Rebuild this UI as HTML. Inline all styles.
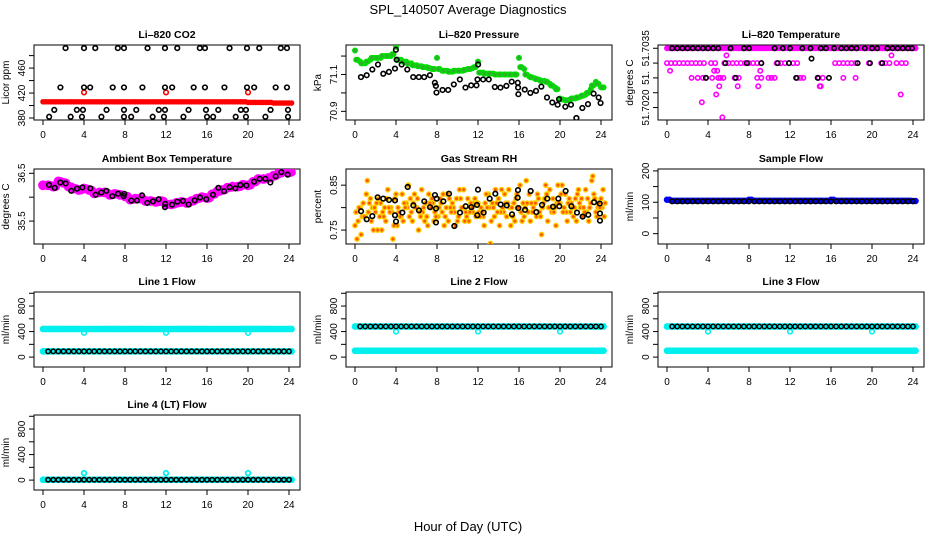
<!DOCTYPE html>
<html><head><meta charset="utf-8"><style>
html,body{margin:0;padding:0;background:#fff;}
svg{display:block;font-family:"Liberation Sans",Arial,sans-serif;}
</style></head><body>
<svg id="chart" width="936" height="540" viewBox="0 0 936 540" xmlns="http://www.w3.org/2000/svg">
<text x="468" y="14" text-anchor="middle" font-size="13">SPL_140507  Average Diagnostics</text>
<text x="468" y="531" text-anchor="middle" font-size="13">Hour of Day (UTC)</text>
</svg>
<script>
// ---- shared hours ----
const hh = [0,0.5,1,1.5,2,2.5,3,3.5,4,4.5,5,5.5,6,6.5,7,7.5,8,8.5,9,9.5,10,10.5,11,11.5,12,12.5,13,13.5,14,14.5,15,15.5,16,16.5,17,17.5,18,18.5,19,19.5,20,20.5,21,21.5,22,22.5,23,23.5,24];
const xTicks = [0,4,8,12,16,20,24];
const dipHours = [4,12,20];

// ---- CO2 ----
const co2Red = [406,406,406,406,406,406,406,406,406,406,406,406,406,406,406,406,406,406,406,406,406,406,406,406,406,406,406,406,406,406,406,406,406,406,406,406,406,406,406,406,405,405,405,405,405,404,404,404,404];
const co2RedDip = [421,421,421];
const co2TopH = [2.2,4.0,5.1,7.3,7.9,10.2,11.9,13.1,15.3,15.8,18.2,19.9,21.1,23.2,23.8];
const co2TopV = [492,492,492,492,492,492,492,492,492,492,492,492,492,492,492];
const co2MidH = [1.7,4.0,4.6,6.8,7.9,9.7,11.9,12.6,14.7,15.8,17.7,19.9,20.6,22.7,23.8];
const co2MidV = [429,429,429,429,429,429,429,429,429,429,429,429,429,429,429];
const co2LowH = [1.1,3.3,3.9,6.2,7.9,9.1,11.3,11.9,14.2,15.9,17.1,19.3,19.8,22.2,23.9];
const co2LowV = [393,393,393,393,393,393,393,393,393,393,393,393,393,393,393];
const co2BotH = [0.6,2.7,3.8,5.7,7.9,8.6,10.7,11.8,13.7,16.0,16.6,18.8,19.8,21.7,23.9];
const co2BotV = [382,382,382,382,382,382,382,382,382,382,382,382,382,382,382];

// ---- Pressure ----
const presGreen = [71.23,71.17,71.16,71.18,71.19,71.19,71.2,71.2,71.25,71.18,71.17,71.16,71.15,71.145,71.14,71.13,71.19,71.12,71.12,71.115,71.12,71.12,71.13,71.135,71.17,71.11,71.105,71.105,71.1,71.1,71.1,71.1,71.19,71.13,71.09,71.08,71.07,71.065,71.05,71.03,70.97,70.96,70.965,70.97,70.98,70.99,71.02,71.06,71.03];
const presGreen2 = [71.18,71.16,71.17,71.19,71.19,71.2,71.2,71.21,71.18,71.17,71.16,71.15,71.145,71.14,71.135,71.13,71.13,71.12,71.115,71.12,71.12,71.125,71.13,71.14,71.11,71.105,71.105,71.1,71.1,71.1,71.1,71.1,71.14,71.1,71.085,71.075,71.065,71.06,71.04,71.02,70.965,70.96,70.97,70.975,70.985,71.0,71.04,71.05,71.03];
const presBlackH = [0.58,1.14,1.69,2.24,2.76,3.31,3.9,3.99,4.06,4.55,5.1,5.68,6.23,6.75,7.31,7.79,7.89,7.95,8.54,9.09,9.64,10.23,10.78,11.33,11.85,11.95,12.01,12.5,13.05,13.64,14.19,14.77,15.29,15.88,15.91,15.94,16.56,17.11,17.66,18.18,18.73,19.25,19.77,19.9,20.52,21.07,21.6,22.18,22.73,23.28,23.77,23.96];
const presBlackV = [71.086,71.096,71.127,71.154,71.104,71.114,71.132,71.234,71.18,71.154,71.127,71.086,71.086,71.086,71.096,71.055,71.038,71.002,71.016,71.016,71.046,71.073,71.029,71.041,71.041,71.073,71.154,71.073,71.073,71.032,71.029,71.038,71.061,71.055,71.029,70.993,71.018,71.0,71.011,71.034,70.975,70.948,70.936,70.966,70.925,70.936,70.864,70.918,70.939,70.996,70.975,70.945];

// ---- Li-820 temperature ----
const ltTop = [51.7035,51.7035,51.7035,51.7035,51.7035,51.7035,51.7035,51.7035,51.7035,51.7035,51.7035,51.7035,51.7035,51.7035,51.7035,51.7035,51.7035,51.7035,51.7035,51.7035,51.7035,51.7035,51.7035,51.7035,51.7035,51.7035,51.7035,51.7035,51.7035,51.7035,51.7035,51.7035,51.7035,51.7035,51.7035,51.7035,51.7035,51.7035,51.7035,51.7035,51.7035,51.7035,51.7035,51.7035,51.7035,51.7035,51.7035,51.7035,51.7035];
const ltMagH = [0,0.4,0.8,1.2,1.6,2,2.4,2.8,3.2,3.6,4.3,4.7,5.6,6,6.4,6.8,7.2,7.6,8,8.4,8.8,9.2,10.7,11.1,11.5,11.9,12.3,12.7,16.4,16.8,17.2,17.6,18,18.4,19.7,20.9,21.3,21.7,22.4,22.9,23.3];
const ltMagV = [51.703,51.703,51.703,51.703,51.703,51.703,51.703,51.703,51.703,51.703,51.703,51.703,51.703,51.703,51.703,51.703,51.703,51.703,51.703,51.703,51.703,51.703,51.703,51.703,51.703,51.703,51.703,51.703,51.703,51.703,51.703,51.703,51.703,51.703,51.703,51.703,51.703,51.703,51.703,51.703,51.703];
const ltMag3H = [2.4,3.0,3.5,3.8,4.4,5.0,5.2,5.5,6.6,7.0,8.8,9.2,9.9,10.2,10.5,12.7,13.0,13.3,14.8,15.2,17.2,18.4];
const ltMag3V = [51.7025,51.7025,51.7025,51.7025,51.7025,51.7025,51.7025,51.7025,51.7025,51.7025,51.7025,51.7025,51.7025,51.7025,51.7025,51.7025,51.7025,51.7025,51.7025,51.7025,51.7025,51.7025];
const ltOutH = [0.3,5.8,4.6,4.9,9.1,5.1,6.9,8.9,14.9,15.0,4.8,3.4,5.4,22.8,21.9];
const ltOutV = [51.70274,51.70326,51.70274,51.70274,51.70274,51.70222,51.70222,51.70222,51.70222,51.70222,51.70194,51.70168,51.70117,51.70194,51.70326];
const ltBlkTopH = [0.5,1,1.5,2,2.5,3,3.5,4,4.5,5,6.2,7.5,8,10.5,11.3,12,13.2,14,15,15.5,16.3,17,17.5,18,18.5,19.3,20,20.5,21.5,22,22.5,23,23.5,23.9];
const ltBlkTopV = [51.7035,51.7035,51.7035,51.7035,51.7035,51.7035,51.7035,51.7035,51.7035,51.7035,51.7035,51.7035,51.7035,51.7035,51.7035,51.7035,51.7035,51.7035,51.7035,51.7035,51.7035,51.7035,51.7035,51.7035,51.7035,51.7035,51.7035,51.7035,51.7035,51.7035,51.7035,51.7035,51.7035,51.7035];
const ltBlkLowH = [5.7,7.8,9.2,10.8,11.9,18.6,19.8,21.0,3.8,6.7,12.6,14.7,15.8,14.1];
const ltBlkLowV = [51.703,51.703,51.703,51.703,51.703,51.703,51.703,51.703,51.7025,51.7025,51.7025,51.7025,51.7025,51.70315];

// ---- Ambient box temperature ----
const ambMag = [36.25,36.25,36.22,36.33,36.3,36.22,36.18,36.15,36.18,36.15,36.08,36.1,36.1,36.05,36.07,36.05,36.02,35.95,35.97,35.97,35.92,35.92,35.9,35.92,35.85,35.85,35.88,35.9,35.88,35.92,35.97,36.0,35.98,36.06,36.12,36.15,36.2,36.22,36.22,36.26,36.25,36.32,36.38,36.38,36.4,36.45,36.5,36.55,36.52];
const ambBlkH = [0.59,1.14,1.69,2.21,2.76,3.32,3.84,4.62,5.14,5.69,6.18,6.76,7.32,7.87,7.93,8.62,9.17,9.66,10.18,10.73,11.28,11.93,11.9,12.59,13.11,13.66,14.21,14.8,15.32,15.93,16.59,17.11,17.66,18.21,18.76,19.25,19.84,20.59,21.14,21.69,22.18,22.7,23.25,23.87];
const ambBlkV = [36.255,36.196,36.308,36.287,36.133,36.178,36.203,36.185,36.052,36.098,36.133,36.021,36.073,36.021,36.07,35.93,35.93,36.038,35.881,35.913,35.958,35.86,35.79,35.843,35.906,35.923,35.846,35.934,35.993,35.958,36.052,36.196,36.126,36.21,36.185,36.255,36.245,36.325,36.385,36.385,36.308,36.437,36.524,36.472];

// ---- Gas stream RH ----
const rhA = [.76,.80,.78,.82,.79,.81,.77,.80,.83,.78,.81,.79,.80,.84,.78,.82,.80,.79,.83,.81,.77,.80,.82,.79,.81,.78,.83,.80,.82,.79,.84,.81,.80,.78,.83,.81,.79,.82,.84,.80,.81,.83,.79,.82,.80,.84,.81,.79,.82];
const rhB = [.79,.74,.83,.77,.81,.75,.82,.79,.76,.83,.80,.77,.82,.79,.76,.81,.78,.83,.77,.80,.78,.84,.77,.81,.79,.76,.80,.78,.76,.83,.80,.77,.85,.80,.77,.81,.78,.85,.80,.76,.83,.79,.81,.77,.82,.79,.86,.78,.80];
const rhC = [.73,.78,.86,.80,.75,.79,.84,.73,.80,.77,.85,.81,.75,.80,.83,.77,.80,.76,.82,.79,.84,.77,.79,.82,.78,.81,.72,.84,.79,.81,.76,.82,.79,.86,.81,.78,.74,.83,.79,.81,.85,.77,.80,.83,.78,.82,.87,.80,.84];
const rhD = [.77,.81,.79,.75,.82,.78,.80,.76,.79,.81,.78,.83,.79,.77,.81,.79,.82,.78,.80,.76,.82,.79,.81,.78,.80,.83,.77,.81,.84,.78,.80,.83,.77,.81,.79,.83,.80,.77,.82,.85,.79,.81,.78,.84,.80,.77,.83,.81,.78];
const rhE = [.80,.78,.81,.80,.78,.80,.79,.82,.78,.80,.82,.80,.78,.81,.80,.78,.81,.80,.79,.82,.80,.78,.80,.81,.79,.80,.81,.79,.80,.81,.78,.80,.81,.79,.80,.82,.81,.80,.79,.81,.80,.82,.80,.81,.79,.80,.82,.80,.81];
const rhBlkH = [0.59,1.14,1.69,2.21,2.76,3.32,3.9,3.9,4.0,4.62,5.14,5.69,6.24,6.76,7.32,7.8,7.9,7.97,7.9,8.62,9.17,9.69,10.24,10.8,11.35,11.9,11.93,12.0,12.55,13.14,13.69,14.21,14.8,15.32,15.87,15.9,15.93,16.59,17.14,17.69,18.24,18.76,19.32,19.84,19.93,20.55,21.11,21.66,22.21,22.76,23.32,23.87,23.9,23.9];
const rhBlkV = [.792,.774,.781,.823,.82,.817,.816,.783,.769,.789,.846,.805,.794,.814,.801,.828,.767,.82,.798,.814,.831,.759,.789,.803,.801,.806,.783,.84,.789,.82,.831,.807,.805,.785,.822,.839,.799,.795,.837,.79,.806,.82,.802,.82,.803,.837,.803,.789,.78,.784,.812,.809,.787,.771];

// ---- Flows ----
const sampleBlue = [108,105,105,105,105,105,105,105,105,105,105,105,105,105,105,105,108,105,105,105,105,105,105,105,105,105,105,105,105,105,105,105,108,105,105,105,105,105,105,105,105,105,105,105,105,105,105,105,104];
const sampleBlack = [103,103,103,103,103,103,103,103,103,103,103,103,103,103,103,103,103,103,103,103,103,103,103,103,103,103,103,103,103,103,103,103,103,103,103,103,103,103,103,103,103,103,103,103,103,103,103,103,103];
const l1Hi = [440,440,440,440,440,440,440,440,440,440,440,440,440,440,440,440,440,440,440,440,440,440,440,440,440,440,440,440,440,440,440,440,440,440,440,440,440,440,440,440,440,440,440,440,440,440,440,440,440];
const l1Lo = [90,90,90,90,90,90,90,90,90,90,90,90,90,90,90,90,90,90,90,90,90,90,90,90,90,90,90,90,90,90,90,90,90,90,90,90,90,90,90,90,90,90,90,90,90,90,90,90,90];
const l1Blk = [90,90,90,90,90,90,90,90,90,90,90,90,90,90,90,90,90,90,90,90,90,90,90,90,90,90,90,90,90,90,90,90,90,90,90,90,90,90,90,90,90,90,90,90,90,90,90,90,90];
const l1Dip = [380,380,380];
const l2Hi = [480,480,480,480,480,480,480,480,480,480,480,480,480,480,480,480,480,480,480,480,480,480,480,480,480,480,480,480,480,480,480,480,480,480,480,480,480,480,480,480,480,480,480,480,480,480,480,480,480];
const l2Lo = [100,100,100,100,100,100,100,100,100,100,100,100,100,100,100,100,100,100,100,100,100,100,100,100,100,100,100,100,100,100,100,100,100,100,100,100,100,100,100,100,100,100,100,100,100,100,100,100,100];
const l2Blk = [480,480,480,480,480,480,480,480,480,480,480,480,480,480,480,480,480,480,480,480,480,480,480,480,480,480,480,480,480,480,480,480,480,480,480,480,480,480,480,480,480,480,480,480,480,480,480,480,480];
const l2Dip = [400,400,400];
const l3Hi = [480,480,480,480,480,480,480,480,480,480,480,480,480,480,480,480,480,480,480,480,480,480,480,480,480,480,480,480,480,480,480,480,480,480,480,480,480,480,480,480,480,480,480,480,480,480,480,480,480];
const l3Lo = [100,100,100,100,100,100,100,100,100,100,100,100,100,100,100,100,100,100,100,100,100,100,100,100,100,100,100,100,100,100,100,100,100,100,100,100,100,100,100,100,100,100,100,100,100,100,100,100,100];
const l3Blk = [480,480,480,480,480,480,480,480,480,480,480,480,480,480,480,480,480,480,480,480,480,480,480,480,480,480,480,480,480,480,480,480,480,480,480,480,480,480,480,480,480,480,480,480,480,480,480,480,480];
const l3Dip = [400,400,400];
const l4Cyan = [5,5,5,5,5,5,5,5,5,5,5,5,5,5,5,5,5,5,5,5,5,5,5,5,5,5,5,5,5,5,5,5,5,5,5,5,5,5,5,5,5,5,5,5,5,5,5,5,5];
const l4Blk = [5,5,5,5,5,5,5,5,5,5,5,5,5,5,5,5,5,5,5,5,5,5,5,5,5,5,5,5,5,5,5,5,5,5,5,5,5,5,5,5,5,5,5,5,5,5,5,5,5];
const l4Dip = [110,110,110];

const NS = 'http://www.w3.org/2000/svg';
const svg = document.getElementById('chart');
function mk(tag, attrs, parent){
  const e = document.createElementNS(NS, tag);
  for (const k in attrs) e.setAttribute(k, attrs[k]);
  (parent||svg).appendChild(e);
  return e;
}
const colL = [34,346,658], rowT = [45,169,292,415], W = 266, H = 75;

function panel(c, r, title, ylab, ymin, ymax, yt, ytl){
  const L = colL[c], T = rowT[r];
  const g = mk('g', {});
  
  
  const sx = h => L + 9 + h * (246/24);
  const sy = v => T + H - (v - ymin) / (ymax - ymin) * H;
  const t = mk('text', {x: L + W/2, y: T - 7, 'text-anchor':'middle', 'font-size':10.5, 'font-weight':'bold'}, g);
  t.textContent = title;
  
  
  const box = mk('rect', {x:L, y:T, width:W, height:H, fill:'none', stroke:'#000', 'stroke-width':1}, g);
  
  
  const xa = mk('g', {}, g);
  
  
  xTicks.forEach(v => {
    mk('line', {x1:sx(v), x2:sx(v), y1:T+H, y2:T+H+5, stroke:'#000'}, xa);
    const tl = mk('text', {x:sx(v), y:T+H+18, 'text-anchor':'middle', 'font-size':10}, xa);
    tl.textContent = v;
    
    
  });
  const ya = mk('g', {}, g);
  
  
  yt.forEach((v, i) => {
    const y = sy(v);
    mk('line', {x1:L-5, x2:L, y1:y, y2:y, stroke:'#000'}, ya);
    if (ytl[i] !== '') {
      const tl = mk('text', {x:L-9, y:y, 'text-anchor':'middle', 'font-size':10, transform:`rotate(-90 ${L-9} ${y})`}, ya);
      tl.textContent = ytl[i];
      
      
    }
  });
  const yl = mk('text', {x:L-25, y:T+H/2, 'text-anchor':'middle', 'font-size':10, transform:`rotate(-90 ${L-25} ${T+H/2})`}, g);
  yl.textContent = ylab;
  
  
  const clip = 'clip' + c + r;
  const cp = mk('clipPath', {id: clip}, g);
  mk('rect', {x:L, y:T, width:W, height:H}, cp);
  const pg = mk('g', {'clip-path':`url(#${clip})`}, g);
  return {sx, sy, pg};
}
function pts(p, xs, ys, color, rad, sw, fill, dx){
  const g = mk('g', {}, p.pg);
  
  
  for (let i = 0; i < ys.length && i < xs.length; i++){
    const c = mk('circle', {cx: p.sx(xs[i] + (dx||0)), cy: p.sy(ys[i]), r: rad, fill: fill||'none', stroke: color, 'stroke-width': sw}, g);
    
    
  }
}
const BK = '#000', CY = '#00f0f0';

// Row 1
let p = panel(0,0,'Li\u2013820 CO2','Licor ppm',376.8,497,[380,400,420,440,460,480],['380','','420','','460','']);
pts(p, hh, co2Red, '#ff0000', 2.2, 1.2, '#ff0000');
pts(p, hh, co2Red, '#ff0000', 2.2, 1.2, '#ff0000', 0.25);
pts(p, dipHours, co2RedDip, '#ff0000', 2.3, 1.6);
pts(p, co2TopH, co2TopV, BK, 2.3, 1.6);
pts(p, co2MidH, co2MidV, BK, 2.3, 1.6);
pts(p, co2LowH, co2LowV, BK, 2.3, 1.6);
pts(p, co2BotH, co2BotV, BK, 2.3, 1.6);

p = panel(1,0,'Li\u2013820 Pressure','kPa',70.853,71.26,[70.9,71.0,71.1,71.2],['70.9','','71.1','']);
pts(p, hh, presGreen, '#00dd00', 2.3, 1.4, '#33aa33');
pts(p, hh, presGreen2, '#00dd00', 2.3, 1.4, '#33aa33', 0.25);
pts(p, hh, presGreen2, '#00dd00', 2.3, 1.4, '#33aa33', 0.12);
pts(p, presBlackH, presBlackV, BK, 2.3, 1.6);

p = panel(2,0,'Li\u2013820 Temperature','degrees C',51.70108,51.70361,[51.7015,51.702,51.7025,51.703,51.7035],['51.7020','','51.','','51.7035']);
pts(p, hh, ltTop, '#ff00ff', 2.2, 1.5, '#ff00ff');
pts(p, hh, ltTop, '#ff00ff', 2.2, 1.5, '#ff00ff', 0.25);
pts(p, ltMagH, ltMagV, '#ff00ff', 2.2, 1.6);
pts(p, ltMag3H, ltMag3V, '#ff00ff', 2.2, 1.6);
pts(p, ltOutH, ltOutV, '#ff00ff', 2.2, 1.6);
pts(p, ltBlkTopH, ltBlkTopV, BK, 2.2, 1.6);
pts(p, ltBlkLowH, ltBlkLowV, BK, 2.2, 1.6);

// Row 2
p = panel(0,1,'Ambient Box Temperature','degrees C',35.02,36.59,[35.5,36.0,36.5],['35.5','','36.5']);
pts(p, hh, ambMag, '#ff00ff', 3.8, 2.2, '#ff00ff');
pts(p, hh, ambMag, '#ff00ff', 3.3, 2, '#ff00ff', 0.25);
pts(p, ambBlkH, ambBlkV, BK, 2.3, 1.6);

p = panel(1,1,'Gas Stream RH','percent',0.719,0.886,[0.75,0.8,0.85],['0.75','','0.85']);
[rhA, rhB, rhC, rhD, rhE].forEach((arr, k) => pts(p, hh, arr, '#ffcc00', 2.2, 1.4, '#ff5500', k*0.1));
pts(p, rhBlkH, rhBlkV, BK, 2.3, 1.6);

p = panel(2,1,'Sample Flow','ml/min',-33,206,[0,50,100,150,200],['0','','100','','200']);
pts(p, hh, sampleBlue, '#0000ff', 2.5, 1.5, '#0000ff');
pts(p, hh, sampleBlue, '#0000ff', 2.5, 1.5, '#0000ff', 0.25);
pts(p, hh.slice(1), sampleBlack, BK, 2.3, 1.6);

// Row 3 & 4
const flowT = [0,200,400,600,800,1000], flowL = ['0','','400','','800',''];
p = panel(0,2,'Line 1 Flow','ml/min',-155,1020,flowT,flowL);
pts(p, hh, l1Hi, CY, 2.6, 1.5, CY); pts(p, hh, l1Hi, CY, 2.6, 1.5, CY, 0.25);
pts(p, hh, l1Lo, CY, 2.6, 1.5, CY); pts(p, hh, l1Lo, CY, 2.6, 1.5, CY, 0.25);
pts(p, dipHours, l1Dip, CY, 2.3, 1.6);
pts(p, hh.slice(1), l1Blk, BK, 2.2, 1.5);

p = panel(1,2,'Line 2 Flow','ml/min',-155,1020,flowT,flowL);
pts(p, hh, l2Hi, CY, 2.6, 1.5, CY); pts(p, hh, l2Hi, CY, 2.6, 1.5, CY, 0.25);
pts(p, hh, l2Lo, CY, 2.6, 1.5, CY); pts(p, hh, l2Lo, CY, 2.6, 1.5, CY, 0.25);
pts(p, dipHours, l2Dip, CY, 2.3, 1.6);
pts(p, hh.slice(1), l2Blk, BK, 2.2, 1.5);

p = panel(2,2,'Line 3 Flow','ml/min',-155,1020,flowT,flowL);
pts(p, hh, l3Hi, CY, 2.6, 1.5, CY); pts(p, hh, l3Hi, CY, 2.6, 1.5, CY, 0.25);
pts(p, hh, l3Lo, CY, 2.6, 1.5, CY); pts(p, hh, l3Lo, CY, 2.6, 1.5, CY, 0.25);
pts(p, dipHours, l3Dip, CY, 2.3, 1.6);
pts(p, hh.slice(1), l3Blk, BK, 2.2, 1.5);

p = panel(0,3,'Line 4 (LT) Flow','ml/min',-155,1020,flowT,flowL);
pts(p, hh, l4Cyan, CY, 2.6, 1.5, CY); pts(p, hh, l4Cyan, CY, 2.6, 1.5, CY, 0.25);
pts(p, dipHours, l4Dip, CY, 2.3, 1.8, '#ffffff');
pts(p, hh.slice(1), l4Blk, BK, 2.2, 1.6);
</script>
</body></html>
